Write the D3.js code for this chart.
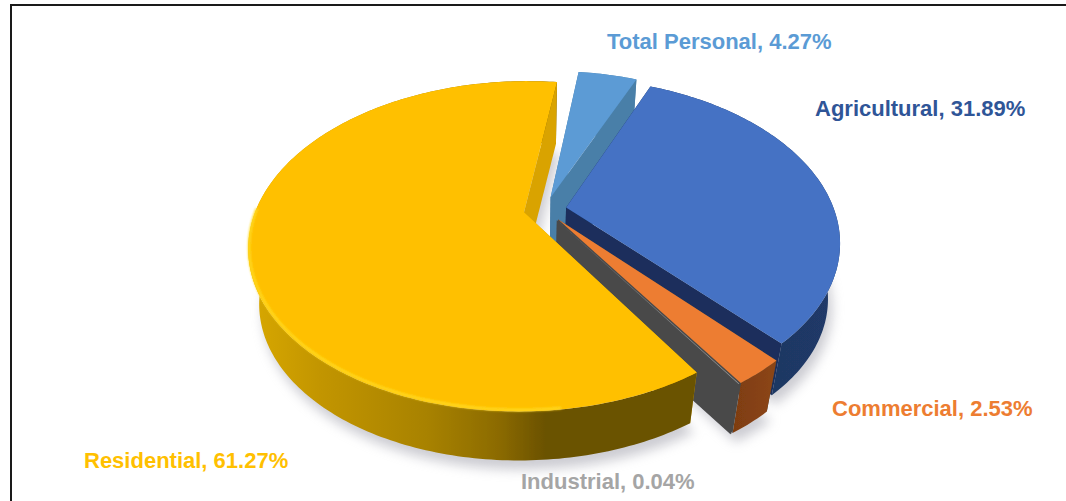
<!DOCTYPE html>
<html><head><meta charset="utf-8">
<script src="https://cdnjs.cloudflare.com/ajax/libs/d3/7.8.5/d3.min.js"></script>
<style>html,body{margin:0;padding:0;background:#fff;overflow:hidden}svg{display:block}text{font-family:"Liberation Sans",Arial,sans-serif;font-weight:700}</style>
</head><body><svg id="c" width="1066" height="501"></svg>
<script>
const categories=["Residential","Total Personal","Agricultural","Commercial","Industrial"];
const values=[61.27,4.27,31.89,2.53,0.04];
const labelText=["Residential, 61.27%","Total Personal, 4.27%","Agricultural, 31.89%","Commercial, 2.53%","Industrial, 0.04%"];
const topColors=["#ffc000","#5b9bd5","#4472c4","#ed7d31","#a5a5a5"];
const labelColors=["#ffc000","#5b9bd5","#2f5597","#ed7d31","#a5a5a5"];
const radialColors=["#d9a300","#4a7fa8","#1a2f5c","#4a4a4a","#4a4a4a"];
const drawOrder=[1,2,3,4,0];
const labelPos=[[84,468],[607,49],[815,116],[832,416],[521,489]];

const svg=d3.select("#c");
const deg=Math.PI/180;
const START=147*deg, EXPLODE=0.08;
const cx=545,cy=209.5,W=268,B=157,Q=0.205;
const vx=530,vy=1670,S=0.961;
const proj=(u,v)=>{const d=1+Q*v;return [cx+W*u/d,cy-B*v/d];};
const drop=p=>[vx+S*(p[0]-vx),vy+S*(p[1]-vy)];

const arcs=d3.pie().sort(null).startAngle(START).endAngle(START+2*Math.PI)(values);
const line=d3.line();

const defs=svg.append("defs");
const blur=(id,s)=>defs.append("filter").attr("id",id).attr("x","-20%").attr("y","-20%").attr("width","140%").attr("height","140%").attr("filterUnits","objectBoundingBox").append("feGaussianBlur").attr("stdDeviation",s);
blur("sh",6);blur("soft",0.9);blur("edge",0.45);
const grad=(id,stops)=>{const g=defs.append("linearGradient").attr("id",id).attr("gradientUnits","userSpaceOnUse").attr("x1",250).attr("x2",840).attr("y1",0).attr("y2",0);
 stops.forEach(([o,c])=>g.append("stop").attr("offset",o).attr("stop-color",c));};
grad("w0",[[0,"#d8a800"],[0.12,"#c29500"],[0.3,"#a88200"],[0.42,"#8c6b00"],[0.5,"#6b5200"],[1,"#6b5200"]]);
grad("w1",[[0,"#4a7fa8"],[1,"#4a7fa8"]]);
grad("w2",[[0,"#1a2f5c"],[0.9,"#1f3864"],[1,"#203a68"]]);
grad("w3",[[0.8,"#7a3b10"],[0.88,"#8a4414"],[1,"#8a4414"]]);
grad("w4",[[0,"#4a4a4a"],[1,"#4a4a4a"]]);

const geom=arcs.map((a,i)=>{
  const mid=(a.startAngle+a.endAngle)/2;
  const ou=EXPLODE*Math.sin(mid),ov=EXPLODE*Math.cos(mid);
  const n=Math.max(2,Math.ceil((a.endAngle-a.startAngle)/deg));
  const ring=d3.range(n+1).map(k=>{const t=a.startAngle+(a.endAngle-a.startAngle)*k/n;return proj(ou+Math.sin(t),ov+Math.cos(t));});
  return {apex:proj(ou,ov),ring};
});

const gShadow=svg.append("g").attr("filter","url(#sh)").attr("opacity",0.5);
geom.forEach(g=>{
  gShadow.append("path").attr("d",line([g.apex,...g.ring].map(drop))+"Z").attr("fill","#9a9aa6").attr("transform","translate(4,9)");
});

const gPie=svg.append("g").attr("filter","url(#edge)");
drawOrder.forEach(i=>{
  const g=geom[i],ring=g.ring,dr=ring.map(drop),a=g.apex,da=drop(a);
  const s=gPie.append("g").attr("class","slice");
  const first=ring[0],last=ring[ring.length-1];
  s.append("path").attr("d",line([a,first,drop(first),da])+"Z").attr("fill",radialColors[i]);
  s.append("path").attr("d",line([...ring,...dr.slice().reverse()])+"Z").attr("fill",`url(#w${i})`);
  s.append("path").attr("d",line([a,last,drop(last),da])+"Z").attr("fill",radialColors[i]);
  s.append("path").attr("d",line([a,...ring])+"Z").attr("fill",topColors[i]);
  if(i===0){
    const rim=ring.filter((p,k)=>k>25&&k<125);
    s.append("path").attr("d",line(rim)).attr("fill","none").attr("stroke","#ffd91a").attr("stroke-width",2.6).attr("filter","url(#soft)").attr("transform","translate(1,-1.5)");
  }
});

labelPos.forEach((p,i)=>{
  svg.append("text").attr("x",p[0]).attr("y",p[1]).attr("font-size",22).attr("fill",labelColors[i]).text(labelText[i]);
});

// chart frame
svg.append("path").attr("d","M11,501V5H1066").attr("fill","none").attr("stroke","#1a1a1a").attr("stroke-width",2);
</script></body></html>
